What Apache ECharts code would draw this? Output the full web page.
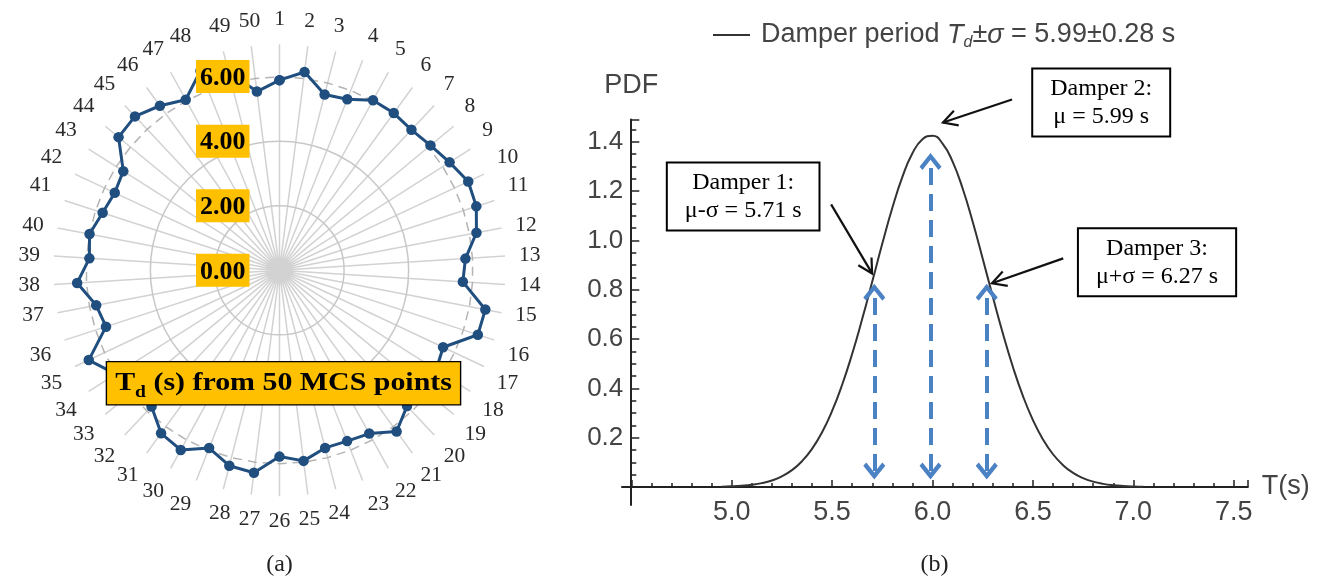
<!DOCTYPE html>
<html><head><meta charset="utf-8">
<script src="https://cdn.jsdelivr.net/npm/echarts@6/dist/echarts.min.js"></script>
<style>html,body{margin:0;padding:0;background:#fff}#c{width:1328px;height:584px}</style>
</head><body><div id="c"></div>
<script>
// ---------- data: panel (a) ----------
const spokeLabels = ['1','2','3','4','5','6','7','8','9','10','11','12','13','14','15','16','17','18','19','20',
  '21','22','23','24','25','26','27','28','29','30','31','32','33','34','35','36','37','38','39','40',
  '41','42','43','44','45','46','47','48','49','50'];
const tdValues = [5.89,6.19,5.62,5.70,6.01,6.02,5.97,6.07,6.24,6.46,
                  6.41,6.21,5.77,5.69,6.49,6.46,5.60,5.75,5.80,5.77,
                  6.17,5.77,5.69,5.68,5.95,5.77,6.32,6.25,5.92,6.35,
                  6.24,5.79,5.90,6.00,6.53,5.65,5.78,6.28,5.90,5.99,
                  5.76,5.64,5.73,6.47,6.54,6.30,6.03,6.65,6.35,5.58];
const tdMean = 5.99;
const tdStd = 0.28;
const radialMax = 7;
const radialStep = 2;
// ---------- data: panel (b) ----------
const pdfT = [4.95,5.00,5.05,5.10,5.15,5.20,5.25,5.30,5.35,5.40,5.45,5.50,5.55,5.60,5.65,5.70,5.75,5.80,5.85,5.90,5.95,
              6.00,6.05,6.10,6.15,6.20,6.25,6.30,6.35,6.40,6.45,6.50,6.55,6.60,6.65,6.70,6.75,6.80,6.85,6.90,6.95,7.00,7.05];
const pdfValues = [0.0014,0.0027,0.0051,0.0091,0.0158,0.0266,0.0434,0.0684,0.1046,0.1547,0.2218,0.3082,0.4145,0.5401,0.6818,0.8332,0.9868,1.1319,1.2574,1.3531,1.4104,
                   1.4239,1.3925,1.3190,1.2101,1.0755,0.9258,0.7720,0.6235,0.4877,0.3696,0.2713,0.1928,0.1328,0.0886,0.0572,0.0358,0.0217,0.0127,0.0072,0.0040,0.0021,0.0011];
const damperT = [5.71, 5.99, 6.27];
const arrowTops = [0.79, 1.32, 0.79];
const arrowBottom = 0.065;
const damperTexts = [['Damper 1:','μ-σ = 5.71 s'],['Damper 2:','μ = 5.99 s'],['Damper 3:','μ+σ = 6.27 s']];

// ---------- layout (annotation anchors in data coords of panel b) ----------
const boxAnchors = [[5.057,1.178],[6.840,1.559],[7.118,0.911]];
const arrowFrom = [[5.495,1.146],[6.396,1.571],[6.651,0.927]];
const arrowTo = [[5.699,0.866],[6.052,1.478],[6.296,0.826]];

const SERIF = '"Liberation Serif","Times New Roman",serif';
const SANS = '"Liberation Sans",Arial,sans-serif';
const chev = 'path://M11,0 L22,13 L19,16 L11,6.5 L3,16 L0,13 Z';
const AX = '#222';

const polarData = tdValues.map((v,i)=>[v,i]).concat([[tdValues[0], tdValues.length]]);
const meanData = spokeLabels.map((s,i)=>[tdMean,i]).concat([[tdMean, spokeLabels.length]]);

const chart = echarts.init(document.getElementById('c'));
const option = {
  animation: false,
  backgroundColor: '#fff',
  polar: { center: [279.5, 270.3], radius: 226 },
  angleAxis: {
    type: 'value', min: 0, max: spokeLabels.length, interval: 1,
    startAngle: 90, clockwise: true,
    axisLine: { show: false }, axisTick: { show: false },
    splitLine: { show: true, lineStyle: { color: '#d2d2d2', width: 1.5 } },
    axisLabel: { margin: 14, fontFamily: SERIF, fontSize: 21.5, color: '#2a2a2a',
      formatter: v => (v < spokeLabels.length ? spokeLabels[v] : '') }
  },
  radiusAxis: {
    type: 'value', min: 0, max: radialMax, interval: radialStep, z: 5,
    axisLine: { show: false }, axisTick: { show: false },
    splitLine: { show: true, lineStyle: { width: 1.5,
      color: ['#c8c8c8','#c8c8c8','#c8c8c8','rgba(0,0,0,0)','rgba(0,0,0,0)'] } },
    axisLabel: { margin: 30,
      formatter: v => (v % radialStep === 0 && v < 6.5) ? '{b|' + v.toFixed(2) + '}' : '',
      rich: { b: { backgroundColor: '#FFC000', fontFamily: SERIF, fontWeight: 'bold', fontSize: 26,
                   color: '#000', padding: [5,4,2,4], lineHeight: 28 } } }
  },
  grid: [
    { left: 631.3, right: 80.2, top: 119.5, bottom: 97 },
    { left: 622, right: 80.2, top: 119.5, bottom: 79 }
  ],
  xAxis: [{
    type: 'value', gridIndex: 0, min: 4.5, max: 7.57, interval: 0.5,
    name: 'T(s)', nameLocation: 'end', nameGap: 14,
    nameTextStyle: { fontFamily: SANS, fontSize: 27, color: '#444', padding: [0,0,4,0] },
    axisLine: { show: false },
    axisTick: { inside: true, length: 7, lineStyle: { color: AX, width: 1.5 } },
    minorTick: { show: true, splitNumber: 5, length: 4, lineStyle: { color: AX, width: 1.5 } },
    splitLine: { show: false },
    axisLabel: { margin: 12, fontFamily: SANS, fontSize: 27, color: '#444',
      formatter: v => (v >= 5 && Math.abs(v*2 - Math.round(v*2)) < 1e-6) ? v.toFixed(1) : '' }
  }, {
    type: 'value', gridIndex: 1, min: -0.0144, max: 1,
    axisLine: { onZero: true, lineStyle: { color: AX, width: 2 } },
    axisTick: { show: false }, axisLabel: { show: false }, splitLine: { show: false }
  }],
  yAxis: [{
    type: 'value', gridIndex: 0, min: 0, max: 1.49, interval: 0.2,
    name: 'PDF', nameLocation: 'end', nameGap: 20,
    nameTextStyle: { fontFamily: SANS, fontSize: 27, color: '#444' },
    axisLine: { show: false },
    axisTick: { inside: true, length: 8, lineStyle: { color: AX, width: 1.5 } },
    minorTick: { show: true, splitNumber: 4, length: 5, lineStyle: { color: AX, width: 1.5 } },
    splitLine: { show: false },
    axisLabel: { margin: 8, fontFamily: SANS, fontSize: 26, color: '#444',
      formatter: v => (v > 0.01 && Math.abs(v*5 - Math.round(v*5)) < 1e-6) ? v.toFixed(1) : '' }
  }, {
    type: 'value', gridIndex: 1, min: -0.073, max: 1.49,
    axisLine: { onZero: true, lineStyle: { color: AX, width: 2 } },
    axisTick: { show: false }, axisLabel: { show: false }, splitLine: { show: false }
  }],
  legend: {
    data: ['pdf'], left: 708, top: 14, itemWidth: 37, itemHeight: 14, icon: 'path://M0,6 L37,6 L37,8 L0,8 Z',
    itemStyle: { color: '#333' },
    formatter: () => '{p|Damper period }{i|T}{s|d}{n|±}{i|σ}{n| = ' + tdMean.toFixed(2) + '±' + tdStd.toFixed(2) + ' s}',
    textStyle: { fontFamily: SANS, fontSize: 27, color: '#444', lineHeight: 32,
      rich: {
        p: { fontFamily: SANS, fontSize: 27, color: '#444', padding: [0,0,0,6], lineHeight: 32 },
        n: { fontFamily: SANS, fontSize: 27, color: '#444', lineHeight: 32 },
        i: { fontFamily: SANS, fontSize: 27, color: '#444', fontStyle: 'italic', lineHeight: 32 },
        s: { fontFamily: SANS, fontSize: 16, color: '#444', fontStyle: 'italic', verticalAlign: 'bottom', lineHeight: 15 }
      } }
  },
  series: [
    { name: 'mean', type: 'line', coordinateSystem: 'polar', data: meanData, symbol: 'none', silent: true,
      lineStyle: { color: '#b4b4b4', width: 1.5, type: [9, 6] }, z: 2 },
    { name: 'Td', type: 'line', coordinateSystem: 'polar', data: polarData,
      symbol: 'circle', symbolSize: 10.5, itemStyle: { color: '#1f4e7f' },
      lineStyle: { color: '#1f4e7f', width: 3 }, z: 3 },
    { name: 'pdf', type: 'line', xAxisIndex: 0, yAxisIndex: 0, smooth: true, symbol: 'none',
      data: pdfT.map((t,i)=>[t, pdfValues[i]]),
      lineStyle: { color: '#333', width: 2 }, itemStyle: { color: '#333' },
      markLine: { silent: true, symbol: [chev, chev], symbolSize: [22, 17], label: { show: false },
        lineStyle: { color: '#4a82c4', width: 4, type: [17, 9] },
        data: damperT.map((t,i)=>[{ coord: [t, arrowBottom] }, { coord: [t, arrowTops[i]] }]) } }
  ]
};
chart.setOption(option);

// annotations positioned through the cartesian scales
const toPx = p => chart.convertToPixel({ xAxisIndex: 0, yAxisIndex: 0 }, p);
const gfx = [];
damperTexts.forEach((lines, k) => {
  const c = toPx(boxAnchors[k]);
  gfx.push({ type: 'text', x: c[0], y: c[1], z: 50,
    style: { text: lines.join('\n'), fontFamily: SERIF, fontSize: 24, fill: '#000', lineHeight: 28,
      align: 'center', verticalAlign: 'middle', textAlign: 'center', textVerticalAlign: 'middle',
      backgroundColor: '#fff', borderColor: '#000', borderWidth: 2, padding: [5, 17] } });
  const a = toPx(arrowFrom[k]), b = toPx(arrowTo[k]);
  const ang = Math.atan2(b[1]-a[1], b[0]-a[0]);
  const L = 16, sp = 0.5;
  const p1 = [b[0] - L*Math.cos(ang - sp), b[1] - L*Math.sin(ang - sp)];
  const p2 = [b[0] - L*Math.cos(ang + sp), b[1] - L*Math.sin(ang + sp)];
  gfx.push({ type: 'line', z: 50, shape: { x1: a[0], y1: a[1], x2: b[0], y2: b[1] }, style: { stroke: '#111', lineWidth: 2.2 } });
  gfx.push({ type: 'polyline', z: 50, shape: { points: [p1, b, p2] }, style: { stroke: '#111', lineWidth: 2.2, fill: null } });
});
// panel (a) caption box and sub-figure labels
const pc = chart.convertToPixel({ polarIndex: 0 }, [0, 0]);
gfx.push({ type: 'text', x: pc[0] + 4, y: pc[1] + 113, z: 60, scaleX: 1.15,
  style: { text: '{b|T}{s|d}{b| (s) from 50 MCS points}', align: 'center', verticalAlign: 'middle',
    textAlign: 'center', textVerticalAlign: 'middle',
    backgroundColor: '#FFC000', borderColor: '#000', borderWidth: 1.2, padding: [3, 7, 3, 7],
    rich: { b: { fontFamily: SERIF, fontWeight: 'bold', fontSize: 26, fill: '#000', color: '#000', lineHeight: 36 },
            s: { fontFamily: SERIF, fontWeight: 'bold', fontSize: 17, fill: '#000', color: '#000', verticalAlign: 'bottom', lineHeight: 16 } } } });
gfx.push({ type: 'text', x: pc[0], y: 565, z: 60, style: { text: '(a)', fontFamily: SERIF, fontSize: 24, fill: '#222',
  align: 'center', verticalAlign: 'middle', textAlign: 'center', textVerticalAlign: 'middle' } });
const pb = toPx([6.0, 0]);
gfx.push({ type: 'text', x: pb[0] + 2, y: 565, z: 60, style: { text: '(b)', fontFamily: SERIF, fontSize: 24, fill: '#222',
  align: 'center', verticalAlign: 'middle', textAlign: 'center', textVerticalAlign: 'middle' } });
chart.setOption({ graphic: gfx });
</script></body></html>
